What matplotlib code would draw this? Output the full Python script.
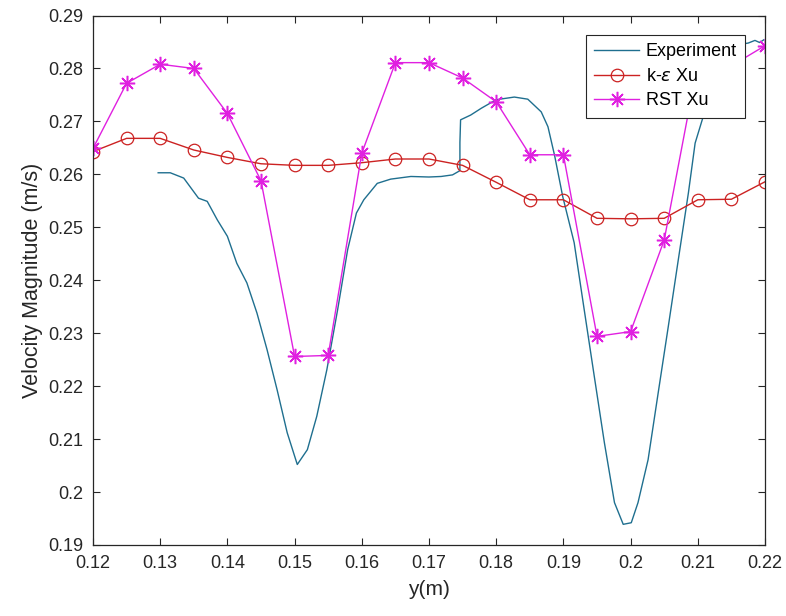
import matplotlib
matplotlib.use("Agg")
import matplotlib.pyplot as plt
import numpy as np

# simulation stations (m)
y_sim = [0.12, 0.125, 0.13, 0.135, 0.14, 0.145, 0.15, 0.155, 0.16, 0.165, 0.17,
         0.175, 0.18, 0.185, 0.19, 0.195, 0.2, 0.205, 0.21, 0.215, 0.22]

ke_xu = [0.2643, 0.2668, 0.2668, 0.2646, 0.2632, 0.2620, 0.2617, 0.2617, 0.2622, 0.2629, 0.2629,
         0.2617, 0.2585, 0.2552, 0.2552, 0.2517, 0.2516, 0.2517, 0.2552, 0.2553, 0.2586]

rst_xu = [0.2649, 0.2772, 0.2808, 0.2800, 0.2715, 0.2588, 0.2256, 0.2258, 0.2640, 0.2811, 0.2811,
          0.2782, 0.2737, 0.2637, 0.2637, 0.2294, 0.2303, 0.2476, 0.2810, 0.2805, 0.2843]

# measured profile
y_exp = [0.1297, 0.1315, 0.1335, 0.1357, 0.1370, 0.1385, 0.1400, 0.1414, 0.1429, 0.1444,
         0.1459, 0.1474, 0.1489, 0.1504, 0.1519, 0.1533, 0.1548, 0.1564, 0.1579, 0.1592,
         0.1603, 0.1623, 0.1643, 0.1673, 0.1700, 0.1718, 0.1735, 0.1746, 0.1746, 0.1747,
         0.1762, 0.1778, 0.1800, 0.1827, 0.1847, 0.1867, 0.1877, 0.1887, 0.1899, 0.1916,
         0.1931, 0.1946, 0.1961, 0.1976, 0.1989, 0.2001, 0.2011, 0.2026, 0.2041, 0.2056,
         0.2071, 0.2086, 0.2096, 0.2108, 0.2120, 0.2140, 0.2160, 0.2175, 0.2185, 0.2192,
         0.2198]
v_exp = [0.2603, 0.2603, 0.2593, 0.2555, 0.2549, 0.2514, 0.2483, 0.2432, 0.2395, 0.2338,
         0.2269, 0.2193, 0.2112, 0.2052, 0.2080, 0.2143, 0.2231, 0.2344, 0.2458, 0.2527,
         0.2552, 0.2583, 0.2591, 0.2596, 0.2595, 0.2596, 0.2599, 0.2607, 0.2660, 0.2703,
         0.2712, 0.2725, 0.2741, 0.2746, 0.2742, 0.2718, 0.2690, 0.2635, 0.2558, 0.2471,
         0.2344, 0.2218, 0.2093, 0.1980, 0.1939, 0.1942, 0.1980, 0.2061, 0.2187, 0.2312,
         0.2439, 0.2565, 0.2659, 0.2709, 0.2790, 0.2830, 0.2845, 0.2848, 0.2853, 0.2849,
         0.2854]

plt.rcParams['font.family'] = ['Liberation Sans', 'DejaVu Sans']

fig = plt.figure(figsize=(7.86, 6.16), dpi=100)
ax = fig.add_axes([0.1183, 0.1153, 0.8550, 0.8595])

ax.plot(y_exp, v_exp, color='#1f6f8f', lw=1.0, label='Experiment')
ax.plot(y_sim, ke_xu, color='#cc2222', lw=1.0, marker='o', ms=9, mfc='none',
        mec='#cc2222', mew=0.9, label='k-$\\epsilon$ Xu')
# matlab style asterisk: 8 spokes
ax.plot(y_sim, rst_xu, color='#e020e0', lw=1.0, marker=(8, 2, 0), ms=11,
        mec='#e020e0', mew=1.1, label='RST Xu')

ax.set_xlim(0.12, 0.22)
ax.set_ylim(0.19, 0.29)
ax.set_xticks(np.arange(0.12, 0.2201, 0.01))
ax.set_yticks(np.arange(0.19, 0.2901, 0.01))
ax.set_xticklabels(['0.12', '0.13', '0.14', '0.15', '0.16', '0.17', '0.18', '0.19', '0.2', '0.21', '0.22'])
ax.set_yticklabels(['0.19', '0.2', '0.21', '0.22', '0.23', '0.24', '0.25', '0.26', '0.27', '0.28', '0.29'])
ax.tick_params(direction='in', top=True, right=True, length=5, width=0.8,
               labelsize=13, colors='#262626', pad=7)
for s in ax.spines.values():
    s.set_color('#262626')
    s.set_linewidth(0.9)

ax.set_xlabel('y(m)', fontsize=15, color='#262626', labelpad=6)
ax.set_ylabel('Velocity Magnitude (m/s)', fontsize=15.5, color='#262626', labelpad=4)

leg = ax.legend(loc='upper right', bbox_to_anchor=(0.970, 0.963), borderaxespad=0,
                fontsize=13, fancybox=False, framealpha=1, edgecolor='#262626',
                handlelength=2.5, handletextpad=0.35, labelspacing=0.42, borderpad=0.45)
leg.get_frame().set_linewidth(0.8)

fig.savefig('out.png', dpi=100)
